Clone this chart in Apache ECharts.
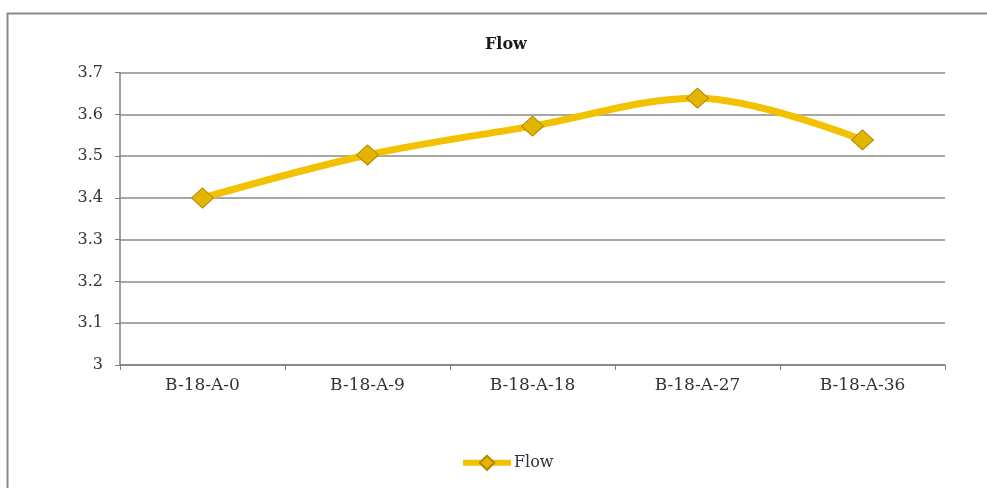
<!DOCTYPE html>
<html>
<head>
<meta charset="utf-8">
<script src="https://cdn.jsdelivr.net/npm/echarts@6/dist/echarts.min.js"></script>
<style>
  html, body { margin: 0; padding: 0; background: #fff; }
  #chart { width: 987px; height: 488px; }
</style>
</head>
<body>
<div id="chart"></div>
<script>
// Flow readings per sample
const categories = ['B-18-A-0', 'B-18-A-9', 'B-18-A-18', 'B-18-A-27', 'B-18-A-36'];
const flowValues = [3.40, 3.503, 3.572, 3.639, 3.539];
const yTicks = { min: 3, max: 3.7, step: 0.1 };

const chart = echarts.init(document.getElementById('chart'));
const serif = 'DejaVu Serif';

chart.setOption({
  backgroundColor: '#ffffff',
  animation: false,
  graphic: [{
    type: 'rect',
    shape: { x: 7.5, y: 13.5, width: 1000, height: 500 },
    style: { fill: 'none', stroke: '#8a8a8a', lineWidth: 2 },
    silent: true
  }],
  title: {
    text: 'Flow',
    left: 480,
    top: 32,
    textStyle: { fontFamily: serif, fontSize: 16, fontWeight: 'bold', color: '#1a1a1a' }
  },
  legend: {
    data: ['Flow'],
    bottom: 12,
    left: 455,
    itemWidth: 48,
    itemHeight: 18,
    itemGap: 4,
    lineStyle: { width: 6, color: '#F2C200' },
    textStyle: { fontFamily: serif, fontSize: 16, color: '#35303f', padding: [0, 0, 0, -2] }
  },
  grid: { left: 120, right: 42, top: 72.7, bottom: 123 },
  xAxis: {
    type: 'category',
    data: categories,
    boundaryGap: true,
    axisLine: { lineStyle: { color: '#808080', width: 1.5 } },
    axisTick: { show: true, length: 5, lineStyle: { color: '#808080' } },
    axisLabel: { fontFamily: serif, fontSize: 17, color: '#333', margin: 12 }
  },
  yAxis: {
    type: 'value',
    min: yTicks.min,
    max: yTicks.max,
    interval: yTicks.step,
    axisLine: { show: true, lineStyle: { color: '#808080', width: 1.5 } },
    axisTick: { show: true, length: 5, lineStyle: { color: '#808080' } },
    axisLabel: {
      fontFamily: serif, fontSize: 16, color: '#333', margin: 17,
      formatter: v => String(Math.round(v * 10) / 10)
    },
    splitLine: { lineStyle: { color: '#8a8a8a', width: 1.5 } }
  },
  series: [{
    name: 'Flow',
    type: 'line',
    data: flowValues,
    smooth: 0.35,
    symbol: 'diamond',
    symbolSize: [22, 20],
    lineStyle: { color: '#F2C200', width: 7 },
    itemStyle: { color: '#E3B400', borderColor: '#B08800', borderWidth: 1 }
  }]
});
</script>
</body>
</html>
